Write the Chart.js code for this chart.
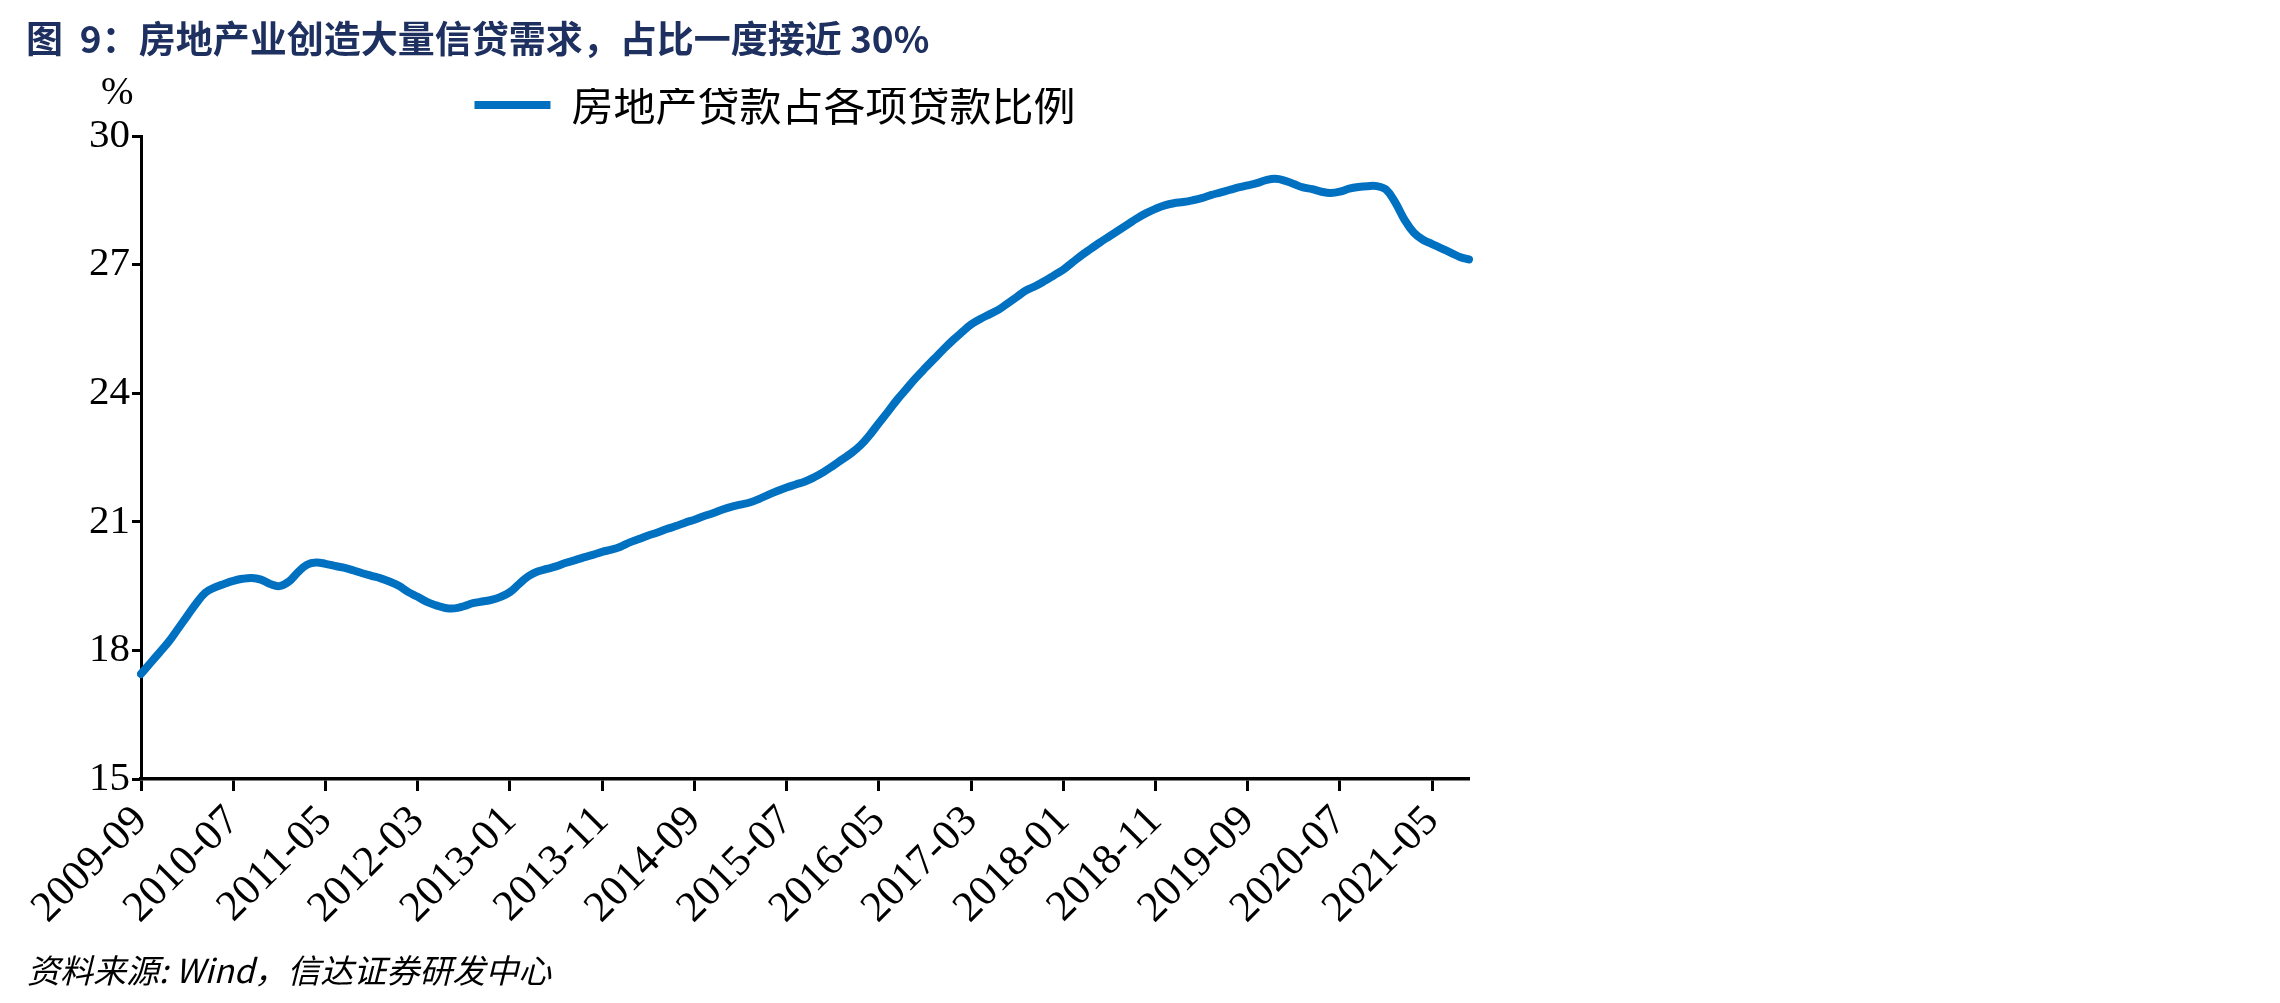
<!DOCTYPE html>
<html>
<head>
<meta charset="utf-8">
<script src="https://cdn.jsdelivr.net/npm/chart.js@4.4.1/dist/chart.umd.min.js"></script>
<style>
  body { margin: 0; background: #fff; }
  #wrap { position: relative; width: 2280px; height: 1003px; overflow: hidden; }
  #chart { position: absolute; left: 0; top: 0; }
  .txt { position: absolute; white-space: nowrap; line-height: 1; }
  #title { left: 26px; top: 10px; font: bold 37px "Noto Sans CJK SC", sans-serif; color: #1e3060; }
  #unit { left: 101px; top: 68px; font: 39px "Liberation Serif", serif; color: #000; }
  #source { left: 27px; top: 945px; font: italic 33px "Noto Sans CJK SC", sans-serif; color: #000; }
</style>
</head>
<body>
<div id="wrap">
  <canvas id="chart" width="2280" height="1003"></canvas>
  <div class="txt" id="title">图&nbsp;&nbsp;9：房地产业创造大量信贷需求，占比一度接近 30%</div>
  <div class="txt" id="unit">%</div>
  <div class="txt" id="source">资料来源: Wind，信达证券研发中心</div>
</div>
<script>
// Monthly series, 2009-09 .. 2021-09
const startYear = 2009;
const startMonth = 9;
const monthCount = 145;

const months = [];
for (let i = 0; i < monthCount; i++) {
    const y = startYear + Math.floor((startMonth - 1 + i) / 12);
    const m = (startMonth - 1 + i) % 12 + 1;
    months.push(y + '-' + (m < 10 ? '0' + m : m));
}

const seriesName = '房地产贷款占各项贷款比例';

// 房地产贷款占各项贷款比例 (%)
const loanShare = [
    17.45, 17.70, 17.95, 18.20, 18.50, 18.80, 19.10, 19.35, 19.47, 19.55,
    19.62, 19.67, 19.69, 19.65, 19.55, 19.50, 19.60, 19.82, 20.00, 20.05,
    20.02, 19.97, 19.93, 19.87, 19.80, 19.74, 19.68, 19.60, 19.50, 19.36,
    19.25, 19.13, 19.05, 18.99, 18.98, 19.03, 19.10, 19.14, 19.18, 19.25,
    19.36, 19.55, 19.73, 19.84, 19.90, 19.96, 20.04, 20.10, 20.17, 20.23,
    20.30, 20.35, 20.42, 20.52, 20.60, 20.68, 20.75, 20.83, 20.90, 20.98,
    21.05, 21.13, 21.20, 21.28, 21.35, 21.40, 21.45, 21.53, 21.63, 21.72,
    21.80, 21.87, 21.94, 22.04, 22.16, 22.30, 22.45, 22.60, 22.78, 23.02,
    23.30, 23.57, 23.85, 24.10, 24.35, 24.58, 24.80, 25.02, 25.23, 25.42,
    25.60, 25.73, 25.84, 25.95, 26.10, 26.25, 26.40, 26.50, 26.62, 26.75,
    26.88, 27.05, 27.22, 27.37, 27.52, 27.66, 27.80, 27.94, 28.08, 28.20,
    28.30, 28.38, 28.43, 28.46, 28.50, 28.55, 28.62, 28.68, 28.74, 28.80,
    28.85, 28.90, 28.97, 29.00, 28.96, 28.88, 28.80, 28.76, 28.70, 28.67,
    28.70, 28.77, 28.81, 28.83, 28.83, 28.75, 28.45, 28.05, 27.75, 27.58,
    27.48, 27.38, 27.28, 27.18, 27.12
];

// y axis range and step
const yMin = 15;
const yMax = 30;
const yStep = 3;
const labelEvery = 10;

const serif = '"Liberation Serif", "Times New Roman", serif';

Chart.defaults.color = '#000';

const ctx = document.getElementById('chart');
new Chart(ctx, {
    type: 'line',
    data: {
        labels: months,
        datasets: [{
            label: seriesName,
            data: loanShare,
            borderColor: '#0070C0',
            backgroundColor: '#0070C0',
            borderWidth: 8,
            borderCapStyle: 'round',
            borderJoinStyle: 'round',
            pointRadius: 0,
            tension: 0.4,
            fill: false
        }]
    },
    options: {
        responsive: false,
        animation: false,
        layout: {
            padding: { left: 81, top: 88, right: 811, bottom: 74 }
        },
        plugins: {
            legend: {
                position: 'top',
                labels: {
                    usePointStyle: true,
                    pointStyle: 'line',
                    pointStyleWidth: 76,
                    padding: -4,
                    font: { family: '"Noto Sans CJK SC", sans-serif', size: 42 }
                }
            },
            tooltip: { enabled: false }
        },
        scales: {
            x: {
                type: 'category',
                offset: false,
                grid: {
                    display: true,
                    drawOnChartArea: false,
                    drawTicks: true,
                    tickLength: 12,
                    tickColor: '#000',
                    tickWidth: 3
                },
                border: { display: true, color: '#000', width: 3.5 },
                ticks: {
                    autoSkip: false,
                    minRotation: 45,
                    maxRotation: 45,
                    padding: 5,
                    font: { family: serif, size: 43 },
                    callback: function(value, index) {
                        return index % labelEvery === 0 ? this.getLabelForValue(value) : null;
                    }
                },
                afterFit: function(scale) { scale.height = 150; }
            },
            y: {
                type: 'linear',
                min: yMin,
                max: yMax,
                grid: {
                    display: true,
                    drawOnChartArea: false,
                    drawTicks: true,
                    tickLength: 9,
                    tickColor: '#000',
                    tickWidth: 3
                },
                border: { display: true, color: '#000', width: 3 },
                ticks: {
                    stepSize: yStep,
                    padding: 2,
                    font: { family: serif, size: 41 }
                },
                afterFit: function(scale) { scale.width = 60; }
            }
        }
    }
});
</script>
</body>
</html>
